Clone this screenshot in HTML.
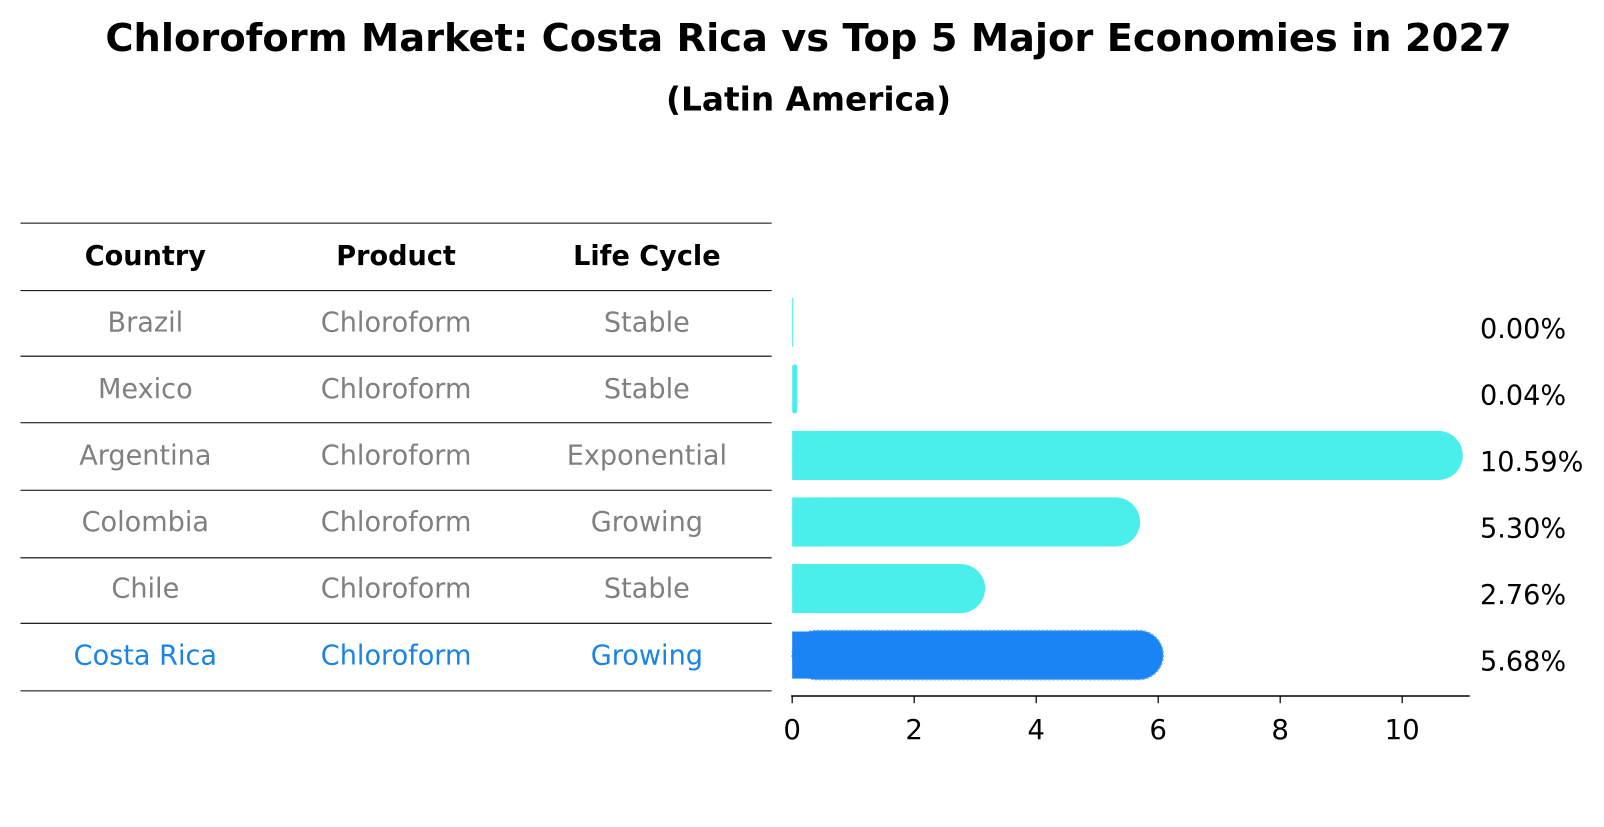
<!DOCTYPE html>
<html><head><meta charset="utf-8"><style>
body{margin:0;background:#fff;font-family:"DejaVu Sans","Liberation Sans",sans-serif;}
</style></head><body>
<svg width="1604" height="823" xmlns="http://www.w3.org/2000/svg" font-family="DejaVu Sans, Liberation Sans, sans-serif">
<g transform="scale(1.0235)">
<text x="790" y="50" text-anchor="middle" font-size="37.5" font-weight="bold">Chloroform Market: Costa Rica vs Top 5 Major Economies in 2027</text>
<text x="790" y="108" text-anchor="middle" font-size="32" font-weight="bold">(Latin America)</text>
<g id="table"></g>
<g id="bars"></g>
</g>
</svg>
<script>
const countries=["Brazil","Mexico","Argentina","Colombia","Chile","Costa Rica"];
const products=["Chloroform","Chloroform","Chloroform","Chloroform","Chloroform","Chloroform"];
const lifeCycles=["Stable","Stable","Exponential","Growing","Stable","Growing"];
const values=[0.00,0.04,10.59,5.30,2.76,5.68];
const valueLabels=["0.00%","0.04%","10.59%","5.30%","2.76%","5.68%"];
const ticks=[0,2,4,6,8,10];
const NS="http://www.w3.org/2000/svg";
function mk(tag,attrs,parent){const e=document.createElementNS(NS,tag);for(const k in attrs)e.setAttribute(k,attrs[k]);parent.appendChild(e);return e;}
const x=v=>774+v*59.6;
const rowY=i=>315+i*65;
const table=document.getElementById('table');
const bars=document.getElementById('bars');
const lineYs=[218,284,348,413,479,545,609,675];
lineYs.forEach((ly,i)=>{const l=mk('line',{x1:20,x2:754,y1:ly,y2:ly,stroke:'#000','stroke-width':1},table);

});
const cols=[142,387,632];
["Country","Product","Life Cycle"].forEach((h,j)=>{const t=mk('text',{x:cols[j],y:259,'text-anchor':'middle','font-size':26.5,'font-weight':'bold'},table);t.textContent=h;

});
countries.forEach((c,i)=>{
 const col=i===5?'#1a84e6':'#808080';
 [c,products[i],lifeCycles[i]].forEach((s,j)=>{const t=mk('text',{x:cols[j],y:rowY(i)+9,'text-anchor':'middle','font-size':26.5,fill:col},table);t.textContent=s;
 
 });
 const w=x(values[i])-x(0);const r=Math.min(24,w);
 const b=mk('rect',{x:x(0),y:rowY(i)-24,width:Math.max(w+r,1),height:48,rx:r,ry:Math.min(24,r),fill:i===5?'#1a84f5':'#4aeeea'},bars);
 if(i===5){b.setAttribute('stroke','#5aaaf8');b.setAttribute('stroke-dasharray','2 2');b.setAttribute('stroke-width','1.5');}
 
 
 if(w>24){const f=mk('rect',{x:x(0),y:rowY(i)-24+(i===5?1:0),width:24,height:i===5?46:48,fill:i===5?'#1a84f5':'#4aeeea'},bars);
 
 }
 const vt=mk('text',{x:1446,y:rowY(i)+15,'font-size':26.5},bars);vt.textContent=valueLabels[i];
 
 
});
const ax=mk('line',{x1:773,x2:1436,y1:680,y2:680,stroke:'#000','stroke-width':1.5},bars);


ticks.forEach(t=>{const l=mk('line',{x1:x(t),x2:x(t),y1:680,y2:687,stroke:'#000','stroke-width':1.2},bars);


const tx=mk('text',{x:x(t),y:722,'text-anchor':'middle','font-size':27},bars);tx.textContent=t;

});
</script>
</body></html>
